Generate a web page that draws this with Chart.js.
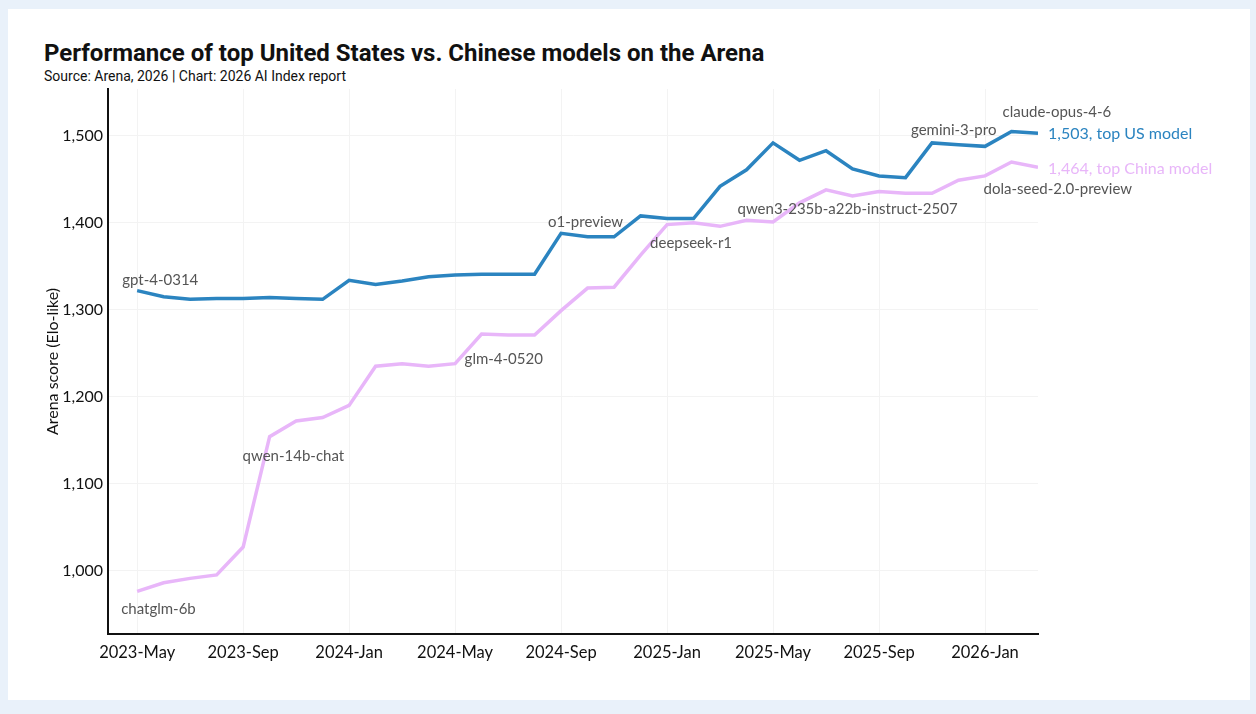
<!DOCTYPE html>
<html>
<head>
<meta charset="utf-8">
<script src="https://cdn.jsdelivr.net/npm/chart.js@4.4.1/dist/chart.umd.min.js"></script>
<style>
  html, body { margin: 0; padding: 0; }
  body { width: 1256px; height: 714px; background: #e9f1fa; position: relative; overflow: hidden; }
  .card { position: absolute; left: 8px; top: 9px; width: 1242px; height: 691px; background: #fff; }
  .title { position: absolute; left: 44px; top: 39px; font: 700 24px Roboto, sans-serif; color: #111; }
  .sub { position: absolute; left: 44px; top: 68px; font: 400 14px Roboto, sans-serif; color: #111; }
  #wrap { position: absolute; left: 0; top: 0; width: 1256px; height: 714px; }
</style>
</head>
<body>
<div class="card"></div>
<div class="title">Performance of top United States vs. Chinese models on the Arena</div>
<div class="sub">Source: Arena, 2026 | Chart: 2026 AI Index report</div>
<div id="wrap"><canvas id="arenaChart" width="1256" height="714"></canvas></div>
<script>
// months from 2023-May to 2026-Mar, one point each
const months = ['2023-May','2023-Jun','2023-Jul','2023-Aug','2023-Sep','2023-Oct','2023-Nov','2023-Dec',
  '2024-Jan','2024-Feb','2024-Mar','2024-Apr','2024-May','2024-Jun','2024-Jul','2024-Aug',
  '2024-Sep','2024-Oct','2024-Nov','2024-Dec','2025-Jan','2025-Feb','2025-Mar','2025-Apr',
  '2025-May','2025-Jun','2025-Jul','2025-Aug','2025-Sep','2025-Oct','2025-Nov','2025-Dec',
  '2026-Jan','2026-Feb','2026-Mar'];

const usScores = [1322, 1315, 1312, 1313, 1313, 1314, 1313, 1312,
  1334, 1329, 1333, 1338, 1340, 1341, 1341, 1341,
  1388, 1384, 1384, 1408, 1405, 1405, 1442, 1461,
  1492, 1472, 1483, 1462, 1454, 1452, 1492, 1490,
  1488, 1505, 1503];

const chinaScores = [976, 986, 991, 995, 1027, 1154, 1172, 1176,
  1190, 1235, 1238, 1235, 1238, 1272, 1271, 1271,
  1299, 1325, 1326, 1363, 1398, 1400, 1396, 1403,
  1401, 1423, 1438, 1431, 1436, 1434, 1434, 1449,
  1454, 1470, 1464];

const xTickLabels = ['2023-May','2023-Sep','2024-Jan','2024-May','2024-Sep','2025-Jan','2025-May','2025-Sep','2026-Jan'];
const yTicks = [1000, 1100, 1200, 1300, 1400, 1500];

// model name labels: which series and which month they sit next to
const modelLabels = [
  { text: 'gpt-4-0314', series: 0, month: '2023-May', dx: -15, dy: -11 },
  { text: 'chatglm-6b', series: 1, month: '2023-May', dx: -16, dy: 18 },
  { text: 'qwen-14b-chat', series: 1, month: '2023-Oct', dx: -27, dy: 19 },
  { text: 'glm-4-0520', series: 1, month: '2024-Jun', dx: -17, dy: 25 },
  { text: 'o1-preview', series: 0, month: '2024-Sep', dx: -13, dy: -11 },
  { text: 'deepseek-r1', series: 1, month: '2025-Jan', dx: -17, dy: 19 },
  { text: 'qwen3-235b-a22b-instruct-2507', series: 1, month: '2025-Apr', dx: -9, dy: -11 },
  { text: 'gemini-3-pro', series: 0, month: '2025-Nov', dx: -21, dy: -13 },
  { text: 'claude-opus-4-6', series: 0, month: '2026-Feb', dx: -9, dy: -19 },
  { text: 'dola-seed-2.0-preview', series: 1, month: '2026-Feb', dx: -28, dy: 27 }
];

const blue = '#2b84c0';
const pink = '#e8b6f9';

const toPoints = vals => vals.map((v, i) => ({ x: i, y: v }));

const labelPlugin = {
  id: 'modelLabels',
  afterDatasetsDraw(chart) {
    const ctx = chart.ctx;
    const xs = chart.scales.x, ys = chart.scales.y;
    ctx.save();
    ctx.font = '15px Lato, sans-serif';
    ctx.textBaseline = 'middle';
    ctx.textAlign = 'left';
    ctx.fillStyle = '#555';
    modelLabels.forEach(l => {
      const i = months.indexOf(l.month);
      const vals = l.series === 0 ? usScores : chinaScores;
      ctx.fillText(l.text, xs.getPixelForValue(i) + l.dx, ys.getPixelForValue(vals[i]) + l.dy);
    });
    // end-of-line value labels
    const last = months.length - 1;
    ctx.font = '16px Lato, sans-serif';
    ctx.fillStyle = blue;
    ctx.fillText(usScores[last].toLocaleString('en-US') + ', top US model',
      xs.getPixelForValue(last) + 10, ys.getPixelForValue(usScores[last]) + 1);
    ctx.fillStyle = pink;
    ctx.fillText(chinaScores[last].toLocaleString('en-US') + ', top China model',
      xs.getPixelForValue(last) + 10, ys.getPixelForValue(chinaScores[last]) + 2);
    ctx.restore();
  }
};

Chart.defaults.font.family = 'Lato, sans-serif';
Chart.defaults.color = '#111';

const ctx = document.getElementById('arenaChart').getContext('2d');
new Chart(ctx, {
  type: 'line',
  data: {
    datasets: [
      { label: 'United States', data: toPoints(usScores), borderColor: blue, borderWidth: 3.5, pointRadius: 0, tension: 0 },
      { label: 'China', data: toPoints(chinaScores), borderColor: pink, borderWidth: 3.5, pointRadius: 0, tension: 0 }
    ]
  },
  options: {
    responsive: false,
    animation: false,
    layout: { padding: { left: 0, right: 218, top: 89, bottom: 0 } },
    plugins: { legend: { display: false }, tooltip: { enabled: false } },
    scales: {
      x: {
        type: 'linear',
        min: -1.1,
        max: months.length - 1,
        afterBuildTicks: s => { s.ticks = xTickLabels.map(t => ({ value: months.indexOf(t) })); },
        afterFit: s => { s.height = 80; },
        ticks: { callback: v => months[v], font: { size: 16.5 }, padding: 9, maxRotation: 0, autoSkip: false },
        grid: { color: '#f3f3f3', drawTicks: false },
        border: { color: '#111', width: 2 }
      },
      y: {
        min: 927,
        max: 1554,
        afterBuildTicks: s => { s.ticks = yTicks.map(v => ({ value: v })); },
        afterFit: s => { s.width = 108; },
        ticks: { callback: v => v.toLocaleString('en-US'), font: { size: 16 }, padding: 5 },
        grid: { color: '#f3f3f3', drawTicks: false },
        border: { color: '#111', width: 2 },
        title: { display: true, text: 'Arena score (Elo-like)', font: { size: 16 }, padding: { top: 43, bottom: 0 } }
      }
    }
  },
  plugins: [labelPlugin]
});
</script>
</body>
</html>
